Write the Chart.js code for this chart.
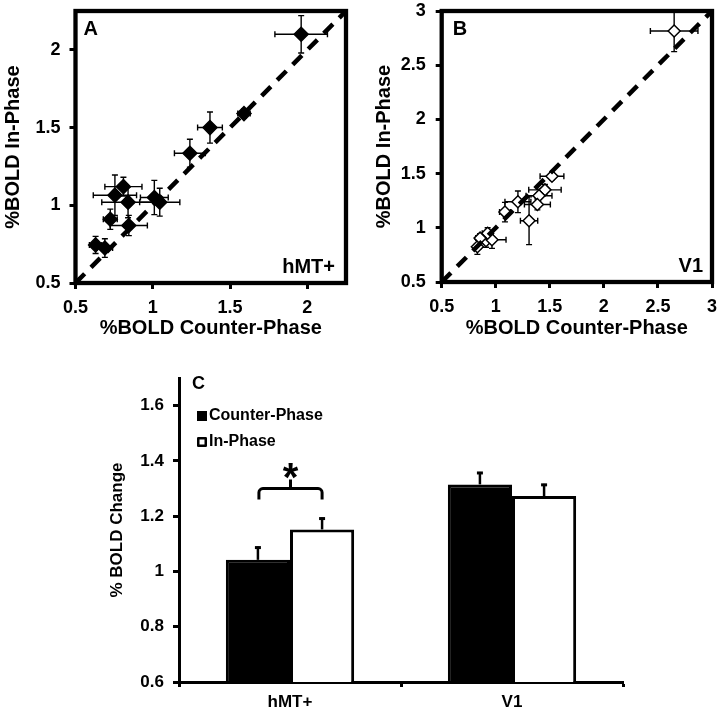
<!DOCTYPE html>
<html>
<head>
<meta charset="utf-8">
<script src="https://cdn.jsdelivr.net/npm/chart.js@4/dist/chart.umd.min.js"></script>
<style>
html,body{margin:0;padding:0;background:#fff;}
body{width:721px;height:713px;position:relative;overflow:hidden;}
canvas{position:absolute;display:block;}
#cA{left:0;top:0;}
#cB{left:360px;top:0;}
#cC{left:0;top:340px;}
</style>
</head>
<body>
<canvas id="cA" width="360" height="340"></canvas>
<canvas id="cB" width="361" height="340"></canvas>
<canvas id="cC" width="721" height="373"></canvas>
<script>
// ---------- Panel A (hMT+) ----------
const aCounter    = [1.96, 1.59, 1.37, 1.24, 0.81, 0.755, 0.84, 1.01, 1.045, 0.725, 0.845, 0.63, 0.69];
const aIn         = [2.10, 1.59, 1.50, 1.335, 1.12, 1.065, 1.02, 1.05, 1.02, 0.91, 0.87, 0.745, 0.725];
const aCounterErr = [0.17, 0.04, 0.08, 0.10, 0.12, 0.14, 0.17, 0.09, 0.13, 0.045, 0.12, 0.04, 0.05];
const aInErr      = [0.12, 0.03, 0.10, 0.09, 0.06, 0.13, 0.10, 0.11, 0.09, 0.065, 0.065, 0.055, 0.06];
const aTicks      = [0.5, 1, 1.5, 2];
const aRange      = [0.5, 2.25];

// ---------- Panel B (V1) ----------
const bCounter    = [2.65, 1.52, 1.455, 1.40, 1.385, 1.205, 1.085, 1.308, 0.83, 0.91, 0.965, 0.925, 0.855];
const bIn         = [2.815, 1.475, 1.35, 1.295, 1.215, 1.24, 1.145, 1.065, 0.825, 0.88, 0.89, 0.95, 0.905];
const bCounterErr = [0.22, 0.11, 0.15, 0.12, 0.12, 0.12, 0.05, 0.08, 0.03, 0.06, 0.13, 0.05, 0.04];
const bInErr      = [0.19, 0.03, 0.05, 0.06, 0.05, 0.10, 0.09, 0.22, 0.07, 0.06, 0.08, 0.05, 0.04];
const bTicks      = [0.5, 1, 1.5, 2, 2.5, 3];
const bRange      = [0.5, 3];

// ---------- Panel C (bars) ----------
const barCategories = ['hMT+', 'V1'];
const barCounter    = [1.042, 1.315];
const barIn         = [1.152, 1.273];
const barCounterErr = [0.048, 0.045];
const barInErr      = [0.043, 0.044];
const cTicks        = [0.6, 0.8, 1, 1.2, 1.4, 1.6];
const cRange        = [0.6, 1.7];

const FONT = "'Liberation Sans', Arial, sans-serif";

function noScalePadding(s) {
  s.paddingTop = 0; s.paddingBottom = 0; s.paddingLeft = 0; s.paddingRight = 0;
}

const errorBarsPlugin = {
  id: 'xyErrors',
  beforeDatasetsDraw(chart) {
    const {ctx, scales: {x, y}} = chart;
    chart.data.datasets.forEach(ds => {
      if (!ds.errX) return;
      ctx.save();
      ctx.strokeStyle = '#000';
      ctx.lineWidth = 1.4;
      const cap = 3;
      ds.data.forEach((p, i) => {
        const px = x.getPixelForValue(p.x), py = y.getPixelForValue(p.y);
        const x1 = x.getPixelForValue(p.x - ds.errX[i]), x2 = x.getPixelForValue(p.x + ds.errX[i]);
        const y1 = y.getPixelForValue(p.y - ds.errY[i]), y2 = y.getPixelForValue(p.y + ds.errY[i]);
        ctx.beginPath();
        ctx.moveTo(x1, py); ctx.lineTo(x2, py);
        ctx.moveTo(x1, py - cap); ctx.lineTo(x1, py + cap);
        ctx.moveTo(x2, py - cap); ctx.lineTo(x2, py + cap);
        ctx.moveTo(px, y1); ctx.lineTo(px, y2);
        ctx.moveTo(px - cap, y1); ctx.lineTo(px + cap, y1);
        ctx.moveTo(px - cap, y2); ctx.lineTo(px + cap, y2);
        ctx.stroke();
      });
      ctx.restore();
    });
  }
};

const framePlugin = {
  id: 'frame',
  afterDraw(chart, args, opts) {
    const {ctx, chartArea: a} = chart;
    ctx.save();
    ctx.strokeStyle = '#000';
    ctx.lineWidth = 4.3;
    ctx.strokeRect(a.left, a.top, a.right - a.left, a.bottom - a.top);
    ctx.fillStyle = '#000';
    ctx.font = 'bold 20px ' + FONT;
    ctx.textBaseline = 'middle';
    ctx.textAlign = 'left';
    ctx.fillText(opts.letter, a.left + opts.letterDx, a.top + 18);
    ctx.textAlign = 'right';
    ctx.fillText(opts.region, a.right - opts.regionDx, a.bottom - 16);
    ctx.restore();
  }
};

function makeScatter(id, xs, ys, ex, ey, ticks, range, fill, radius, pad, yWidth, xHeight, opts) {
  const pts = xs.map((v, i) => ({x: v, y: ys[i]}));
  const tickCfg = (s) => { s.ticks = ticks.map(v => ({value: v})); };
  const scaleBase = {
    type: 'linear', min: range[0], max: range[1],
    afterBuildTicks: tickCfg,
    grid: {display: true, drawOnChartArea: false, drawTicks: true, tickLength: 6, tickWidth: 3, tickColor: '#000'},
    border: {display: false},
  };
  return new Chart(document.getElementById(id), {
    type: 'scatter',
    data: {datasets: [
      {type: 'line', data: [{x: range[0], y: range[0]}, {x: range[1], y: range[1]}],
       borderColor: '#000', borderWidth: 4.5, borderDash: [13, 9], borderCapStyle: 'butt',
       pointRadius: 0, fill: false, tension: 0},
      {data: pts, errX: ex, errY: ey, pointStyle: 'rectRot', pointRadius: radius,
       backgroundColor: fill, borderColor: '#000', borderWidth: 1.5}
    ]},
    options: {
      responsive: false, animation: false, events: [],
      layout: {padding: pad},
      scales: {
        x: Object.assign({}, scaleBase, {
          afterFit: s => { s.height = xHeight; noScalePadding(s); },
          ticks: {font: {family: FONT, size: 18, weight: 'bold'}, color: '#000', padding: 8, maxRotation: 0, autoSkip: false, callback: v => String(v)},
          title: {display: true, text: '%BOLD Counter-Phase', color: '#000', font: {family: FONT, size: 20, weight: 'bold'}, padding: 0}
        }),
        y: Object.assign({}, scaleBase, {
          afterFit: s => { s.width = yWidth; noScalePadding(s); },
          ticks: {font: {family: FONT, size: 18, weight: 'bold'}, color: '#000', padding: opts.yPad, autoSkip: false, callback: v => String(v)},
          title: {display: true, text: '%BOLD In-Phase', color: '#000', font: {family: FONT, size: 20, weight: 'bold'}, padding: {top: opts.yTitlePad, bottom: 0}}
        })
      },
      plugins: {
        legend: {display: false}, tooltip: {enabled: false},
        frame: {letter: opts.letter, letterDx: opts.letterDx, region: opts.region, regionDx: opts.regionDx}
      }
    },
    plugins: [errorBarsPlugin, framePlugin]
  });
}

makeScatter('cA', aCounter, aIn, aCounterErr, aInErr, aTicks, aRange, '#000', 7,
  {left: 0, right: 14, top: 11, bottom: 0}, 75.5, 57,
  {yPad: 9, yTitlePad: 1, letter: 'A', letterDx: 8, region: 'hMT+', regionDx: 11});

makeScatter('cB', bCounter, bIn, bCounterErr, bInErr, bTicks, bRange, '#fff', 6,
  {left: 0, right: 9, top: 11, bottom: 0}, 81.7, 58,
  {yPad: 10, yTitlePad: 12, letter: 'B', letterDx: 11, region: 'V1', regionDx: 9});

// ---------- Bar chart ----------
const barExtras = {
  id: 'barExtras',
  afterDatasetsDraw(chart) {
    const {ctx, scales: {y}} = chart;
    ctx.save();
    ctx.strokeStyle = '#000';
    ctx.fillStyle = '#000';
    // error bars (upper only)
    chart.data.datasets.forEach((ds, di) => {
      const meta = chart.getDatasetMeta(di);
      meta.data.forEach((bar, i) => {
        const top = y.getPixelForValue(ds.data[i]);
        const end = y.getPixelForValue(ds.data[i] + ds.err[i]);
        ctx.lineWidth = 2.5;
        ctx.beginPath(); ctx.moveTo(bar.x, top); ctx.lineTo(bar.x, end); ctx.stroke();
        ctx.lineWidth = 3;
        ctx.beginPath(); ctx.moveTo(bar.x - 3, end + 1); ctx.lineTo(bar.x + 3, end + 1); ctx.stroke();
      });
    });
    // significance brace over hMT+
    const b0 = chart.getDatasetMeta(0).data[0], b1 = chart.getDatasetMeta(1).data[0];
    const xl = b0.x + 1, xr = b1.x;
    const yh = y.getPixelForValue(1.30), ye = y.getPixelForValue(1.26), yt = y.getPixelForValue(1.333);
    const xm = (xl + xr) / 2, r = 4;
    ctx.lineWidth = 3;
    ctx.lineJoin = 'round';
    ctx.beginPath();
    ctx.moveTo(xl, ye);
    ctx.arcTo(xl, yh, xl + r, yh, r);
    ctx.lineTo(xr - r, yh);
    ctx.arcTo(xr, yh, xr, yh + r, r);
    ctx.lineTo(xr, ye);
    ctx.moveTo(xm, yh); ctx.lineTo(xm, yt);
    ctx.stroke();
    ctx.font = 'bold 40px ' + FONT;
    ctx.textAlign = 'center';
    ctx.textBaseline = 'alphabetic';
    const m = ctx.measureText('*');
    const cy = y.getPixelForValue(1.362);
    ctx.fillText('*', xm, cy + (m.actualBoundingBoxAscent - m.actualBoundingBoxDescent) / 2);
    // legend
    const a = chart.chartArea;
    ctx.font = 'bold 16px ' + FONT;
    ctx.textAlign = 'left';
    ctx.textBaseline = 'middle';
    const lx = a.left + 18, ly0 = a.top + 38, step = 26;
    chart.data.datasets.forEach((ds, di) => {
      const cyL = ly0 + di * step;
      ctx.fillStyle = ds.backgroundColor;
      ctx.fillRect(lx, cyL - 5, 10, 10);
      ctx.lineWidth = 2.5;
      ctx.strokeStyle = '#000';
      ctx.strokeRect(lx + 1.25, cyL - 3.75, 7.5, 7.5);
      ctx.fillStyle = '#000';
      ctx.fillText(ds.label, lx + 12, cyL);
    });
    // panel letter
    ctx.font = 'bold 18px ' + FONT;
    ctx.fillText('C', a.left + 13, a.top + 6);
    ctx.restore();
  }
};

new Chart(document.getElementById('cC'), {
  type: 'bar',
  data: {
    labels: barCategories,
    datasets: [
      {label: 'Counter-Phase', data: barCounter, err: barCounterErr, backgroundColor: '#000', borderColor: '#000', borderWidth: 3},
      {label: 'In-Phase', data: barIn, err: barInErr, backgroundColor: '#fff', borderColor: '#000', borderWidth: 3}
    ]
  },
  options: {
    responsive: false, animation: false, events: [],
    layout: {padding: {left: 0, right: 98, top: 38, bottom: 0}},
    datasets: {bar: {categoryPercentage: 0.578, barPercentage: 1}},
    scales: {
      x: {
        afterFit: s => { s.height = 31; noScalePadding(s); },
        grid: {display: true, offset: true, drawOnChartArea: false, tickLength: 5, tickWidth: 3, tickColor: '#000'},
        border: {display: true, color: '#000', width: 3},
        ticks: {font: {family: FONT, size: 17, weight: 'bold'}, color: '#000', padding: 5}
      },
      y: {
        min: cRange[0], max: cRange[1],
        afterBuildTicks: s => { s.ticks = cTicks.map(v => ({value: v})); },
        afterFit: s => { s.width = 179; noScalePadding(s); },
        grid: {display: true, drawOnChartArea: false, tickLength: 6, tickWidth: 3, tickColor: '#000'},
        border: {display: true, color: '#000', width: 3},
        ticks: {font: {family: FONT, size: 17, weight: 'bold'}, color: '#000', padding: 9, callback: v => String(Math.round(v * 10) / 10)},
        title: {display: true, text: '% BOLD Change', color: '#000', font: {family: FONT, size: 17, weight: 'bold'}, padding: {top: 107.5, bottom: 0}}
      }
    },
    plugins: {legend: {display: false}, tooltip: {enabled: false}}
  },
  plugins: [barExtras]
});
</script>
</body>
</html>
